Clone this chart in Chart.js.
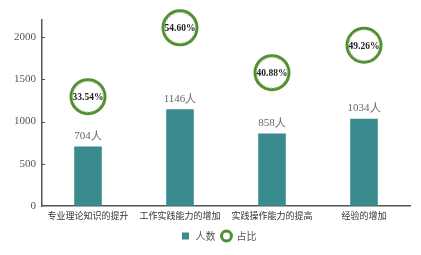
<!DOCTYPE html>
<html>
<head>
<meta charset="utf-8">
<script src="https://cdn.jsdelivr.net/npm/chart.js@4.4.1/dist/chart.umd.min.js"></script>
<style>
  html, body { margin: 0; padding: 0; background: #fff; overflow: hidden; }
  #wrap { width: 430px; height: 255px; }
</style>
</head>
<body>
<div id="wrap"><canvas id="myChart" width="430" height="255"></canvas></div>
<script>
// données
const categories = ['专业理论知识的提升', '工作实践能力的增加', '实践操作能力的提高', '经验的增加'];
const nombres = [704, 1146, 858, 1034];
const pourcentages = [33.54, 54.60, 40.88, 49.26];
const ticksY = [0, 500, 1000, 1500, 2000];

const teal = '#3a8b8e';
const vert = '#4f8f2f';

// étiquettes des barres et des cercles
const etiquettes = {
  id: 'etiquettes',
  afterDatasetsDraw(chart) {
    const ctx = chart.ctx;
    ctx.save();
    // nombres au-dessus des barres
    chart.getDatasetMeta(0).data.forEach((bar, i) => {
      ctx.font = '11px "Liberation Serif"';
      ctx.fillStyle = '#666';
      ctx.textAlign = 'center';
      ctx.textBaseline = 'bottom';
      ctx.fillText(nombres[i] + '人', bar.x, bar.y - 5);
    });
    // anneau pointillé + pourcentage
    chart.getDatasetMeta(1).data.forEach((pt, i) => {
      ctx.beginPath();
      ctx.setLineDash([2, 2]);
      ctx.lineWidth = 1.2;
      ctx.strokeStyle = '#9cc58a';
      ctx.arc(pt.x, pt.y, 15.5, 0, Math.PI * 2);
      ctx.stroke();
      ctx.setLineDash([]);
      ctx.font = 'bold 9.5px "Liberation Serif"';
      ctx.fillStyle = '#222';
      ctx.textAlign = 'center';
      ctx.textBaseline = 'middle';
      ctx.fillText(pourcentages[i].toFixed(2) + '%', pt.x, pt.y + 1);
    });
    // petites graduations vers l'intérieur
    const y = chart.scales.y;
    ctx.strokeStyle = '#555';
    ctx.lineWidth = 1;
    ticksY.forEach(v => {
      if (v === 0) return;
      const py = Math.round(y.getPixelForValue(v)) + 0.5;
      ctx.beginPath();
      ctx.moveTo(chart.chartArea.left, py);
      ctx.lineTo(chart.chartArea.left + 3, py);
      ctx.stroke();
    });
    ctx.restore();
  }
};

new Chart(document.getElementById('myChart'), {
  type: 'bar',
  data: {
    labels: categories,
    datasets: [{
      label: '人数',
      data: nombres,
      backgroundColor: teal,
      yAxisID: 'y',
      categoryPercentage: 1,
      barPercentage: 0.3,
      pointStyle: 'rect'
    }, {
      type: 'line',
      label: '占比',
      data: pourcentages,
      yAxisID: 'y2',
      showLine: false,
      pointStyle: 'circle',
      pointRadius: 17,
      pointHoverRadius: 17,
      pointBorderWidth: 3,
      borderWidth: 3,
      borderColor: vert,
      pointBorderColor: vert,
      backgroundColor: '#fff',
      pointBackgroundColor: '#fff',
      clip: false
    }]
  },
  options: {
    responsive: false,
    animation: false,
    events: [],
    layout: { padding: { left: 8, right: 1, top: 14, bottom: 4 } },
    plugins: {
      tooltip: { enabled: false },
      legend: {
        position: 'bottom',
        labels: {
          usePointStyle: true,
          boxHeight: 7,
          padding: 6,
          color: '#555',
          font: { family: '"Noto Sans CJK SC"', size: 10 },
          sort: (a, b) => a.datasetIndex - b.datasetIndex
        }
      }
    },
    scales: {
      x: {
        grid: { display: true, drawOnChartArea: false, drawTicks: false },
        border: { display: true, color: '#555', width: 1.5 },
        ticks: {
          padding: 4,
          color: '#333',
          maxRotation: 0,
          autoSkip: false,
          font: { family: '"Noto Sans CJK SC"', size: 9 }
        }
      },
      y: {
        min: 0,
        max: 2200,
        afterBuildTicks: axis => {
          axis.ticks = ticksY.map(v => ({ value: v }));
        },
        grid: { display: true, drawOnChartArea: false, drawTicks: false },
        border: { display: true, color: '#555', width: 1.5 },
        ticks: {
          padding: 6,
          color: '#555',
          font: { family: '"Liberation Serif"', size: 11 },
          callback: v => String(v)
        }
      },
      y2: {
        display: false,
        min: 0,
        max: 57
      }
    }
  },
  plugins: [etiquettes]
});
</script>
</body>
</html>
